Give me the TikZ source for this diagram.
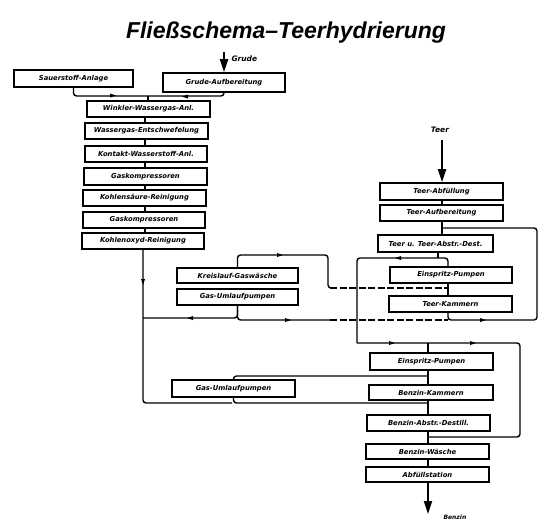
\documentclass[tikz,border=0pt]{standalone}
\usepackage{fontspec}
\setmainfont{Liberation Sans}
\newfontfamily\boxfont{DejaVu Sans}
\usetikzlibrary{arrows.meta}
\newcommand\mybox[6]{\node[bx, minimum width={(#4-#2)*1pt}, minimum height={(#5-#3)*1pt}] (#1) at ({(#2+#4)/2},{(#3+#5)/2}) {#6};}
\newcommand\mk[3]{\fill[shift={(#1,#2)}, rotate=#3] (3,0) -- (-3,2) -- (-3,-2) -- cycle;}
\begin{document}
\begin{tikzpicture}[x=1pt,y=-1pt,
  bx/.style={draw, line width=1.6pt, inner sep=0pt, font=\boxfont\bfseries\itshape\fontsize{6.8}{7}\selectfont},
  ln/.style={line width=1.4pt, rounded corners=3pt},
  dln/.style={line width=1.4pt, dash pattern=on 7pt off 2.5pt},
  big/.style={line width=1.8pt, -{Triangle[length=13pt,width=8pt]}},
  lbl/.style={font=\boxfont\bfseries\itshape\fontsize{7.5}{8}\selectfont}]
\useasboundingbox (0,0) rectangle (540,522);
\node[font=\bfseries\itshape\fontsize{23}{26}\selectfont] (title) at (286,33) {Fließschema–Teerhydrierung};
% boxes
\mybox{sauer}{14}{70}{133}{87}{Sauerstoff-Anlage}
\mybox{grude}{163}{73}{285}{92}{Grude-Aufbereitung}
\mybox{winkler}{87}{101}{210}{117}{Winkler-Wassergas-Anl.}
\mybox{wgent}{85}{123}{208}{139}{Wassergas-Entschwefelung}
\mybox{kontakt}{85}{146}{207}{162}{Kontakt-Wasserstoff-Anl.}
\mybox{gkA}{84}{168}{207}{185}{Gaskompressoren}
\mybox{kohls}{83}{190}{206}{206}{Kohlensäure-Reinigung}
\mybox{gkB}{83}{212}{205}{228}{Gaskompressoren}
\mybox{kohlo}{82}{233}{204}{249}{Kohlenoxyd-Reinigung}
\mybox{kreis}{177}{268}{298}{283}{Kreislauf-Gaswäsche}
\mybox{gasuA}{177}{289}{298}{305}{Gas-Umlaufpumpen}
\mybox{gasuB}{172}{380}{295}{397}{Gas-Umlaufpumpen}
\mybox{tabf}{380}{183}{503}{200}{Teer-Abfüllung}
\mybox{tauf}{380}{205}{503}{221}{Teer-Aufbereitung}
\mybox{tdest}{378}{235}{493}{252}{Teer u. Teer-Abstr.-Dest.}
\mybox{einA}{390}{267}{512}{283}{Einspritz-Pumpen}
\mybox{tkam}{389}{296}{512}{312}{Teer-Kammern}
\mybox{einB}{370}{353}{493}{370}{Einspritz-Pumpen}
\mybox{bkam}{369}{385}{493}{400}{Benzin-Kammern}
\mybox{bdest}{367}{415}{490}{431}{Benzin-Abstr.-Destill.}
\mybox{bwash}{366}{444}{489}{459}{Benzin-Wäsche}
\mybox{abf}{366}{467}{489}{482}{Abfüllstation}
% inputs / outputs
\coordinate (gin) at (224,52);
\draw[big] (gin) -- (grude.north);
\node[lbl, anchor=west] (grudel) at (228,59) {Grude};
\coordinate (tin) at (442,140);
\draw[big] (tin) -- (tabf.north -| tin);
\node[lbl] (teerl) at (440,130) {Teer};
\coordinate (bout) at (428,514);
\draw[big] (abf.south -| bout) -- (bout);
\node[lbl, anchor=west, font=\boxfont\bfseries\itshape\fontsize{6}{7}\selectfont] (benzl) at (440,517) {Benzin};
% top joins
\coordinate (jA) at (148,96);
\draw[ln] (sauer.south) |- (jA);
\draw[ln] (grude.south) |- (jA);
\draw[ln] (jA) -- (winkler.north -| jA);
\mk{113}{95.5}{0}
\mk{185}{96.5}{180}
% left column
\coordinate (cL) at (145,0);
\draw[ln] (winkler.south -| cL) -- (wgent.north -| cL);
\draw[ln] (wgent.south -| cL) -- (kontakt.north -| cL);
\draw[ln] (kontakt.south -| cL) -- (gkA.north -| cL);
\draw[ln] (gkA.south -| cL) -- (kohls.north -| cL);
\draw[ln] (kohls.south -| cL) -- (gkB.north -| cL);
\draw[ln] (gkB.south -| cL) -- (kohlo.north -| cL);
\coordinate (jB) at (143,318);
\coordinate (jC) at (232,403);
\draw[ln] (kohlo.south) |- (jC);
\mk{143}{282}{270}
\draw[ln] (jB) -| (gasuA.south);
\mk{190}{318}{180}
% Kreislauf
\coordinate (kA) at (328,255);
\coordinate (kB) at (330,288);
\coordinate (kC) at (448,288);
\draw[ln] (kreis.north) |- (kA) |- (kB);
\draw[dln] (kB) -- (kC);
\mk{280}{255}{0}
\coordinate (gA) at (330,320);
\coordinate (tB) at (448,320);
\draw[ln] (gasuA.south) |- (gA);
\draw[dln] (gA) -- (tB);
\mk{288}{320}{0}
% Teer column
\draw[ln] (tabf.south -| tin) -- (tauf.north -| tin);
\draw[ln] (tauf.south -| tin) -- (tdest.north -| tin);
\coordinate (rA) at (442,228);
\coordinate (rB) at (537,228);
\coordinate (tA) at (438,258);
\coordinate (cM) at (448,0);
\draw[ln] (tdest.south -| tA) -- (tA);
\coordinate (lA) at (357,343);
\draw[ln] (tA) -| (einA.north -| cM);
\draw[ln] (tA) -| (lA);
\mk{398}{258}{180}
\draw[ln] (einA.south -| cM) -- (tkam.north -| cM);
\draw[ln] (tkam.south -| cM) -- (tB) -| (rB) -- (rA);
\mk{483}{320}{0}
% lower loop
\coordinate (cB) at (428,0);
\coordinate (rC) at (520,437);
\draw[ln] (lA) -| (rC) -- (cB |- rC);
\mk{392}{343}{0}
\mk{473}{343}{0}
\draw[ln] (lA -| cB) -- (einB.north -| cB);
\draw[ln] (einB.south -| cB) -- (bkam.north -| cB);
\draw[ln] (bkam.south -| cB) -- (bdest.north -| cB);
\draw[ln] (bdest.south -| cB) -- (bwash.north -| cB);
\draw[ln] (bwash.south -| cB) -- (abf.north -| cB);
\draw[ln] (gasuB.north) |- (cB |- 0,376);
\draw[ln] (gasuB.south) |- (cB |- jC);
\end{tikzpicture}
\end{document}
